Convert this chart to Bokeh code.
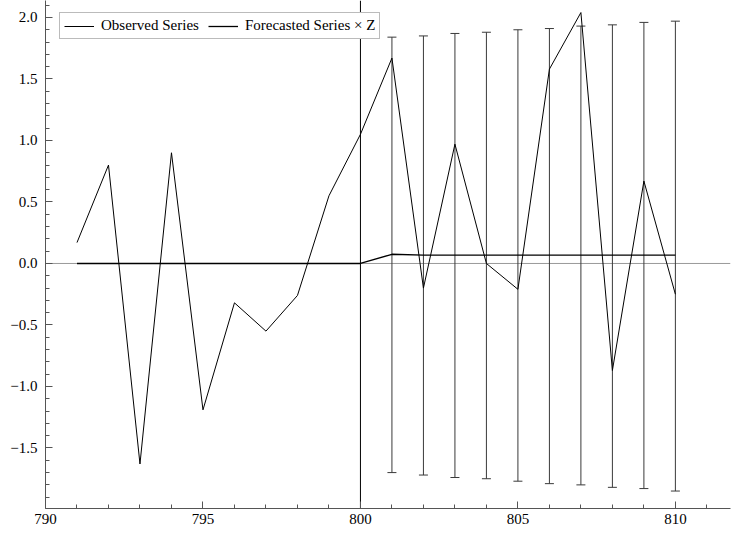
from bokeh.plotting import figure
from bokeh.models import (ColumnDataSource, Span, Whisker, TeeHead, SingleIntervalTicker,
                          CustomJSTickFormatter, Range1d, Legend, LegendItem)
from bokeh.embed import file_html
from bokeh.resources import INLINE

# ---- data ----
x_vals = [791, 792, 793, 794, 795, 796, 797, 798, 799, 800,
          801, 802, 803, 804, 805, 806, 807, 808, 809, 810]
observed = [0.17, 0.80, -1.63, 0.90, -1.19, -0.32, -0.55, -0.26, 0.55, 1.05,
            1.67, -0.20, 0.97, 0.00, -0.21, 1.58, 2.04, -0.87, 0.67, -0.25]
forecast = [0.0, 0.0, 0.0, 0.0, 0.0, 0.0, 0.0, 0.0, 0.0, 0.0,
            0.075, 0.068, 0.068, 0.068, 0.068, 0.068, 0.068, 0.068, 0.068, 0.068]
err_x = [801, 802, 803, 804, 805, 806, 807, 808, 809, 810]
err_upper = [1.84, 1.85, 1.87, 1.88, 1.90, 1.91, 1.93, 1.94, 1.96, 1.97]
err_lower = [-1.70, -1.72, -1.74, -1.75, -1.77, -1.79, -1.80, -1.82, -1.83, -1.85]
cutoff = 800
labels = ["Observed Series", "Forecasted Series \u00d7 Z"]

FONT = "Liberation Serif, Times New Roman, serif"

p = figure(width=731, height=537, output_backend="svg", toolbar_location=None,
           x_range=Range1d(790, 811.75), y_range=Range1d(-1.992, 2.138),
           min_border_left=45, min_border_right=1, min_border_top=0, min_border_bottom=29)
p.outline_line_color = None
p.xgrid.visible = False
p.ygrid.visible = False
p.background_fill_color = "white"

# reference lines
p.add_layout(Span(location=0, dimension="width", line_color="#9a9a9a", line_width=1,
                  level="underlay"))
p.add_layout(Span(location=cutoff, dimension="height", line_color="black", line_width=1,
                  level="underlay"))

src = ColumnDataSource(dict(x=x_vals, obs=observed, fc=forecast))
r_obs = p.line("x", "obs", source=src, line_color="black", line_width=1)
r_fc = p.line("x", "fc", source=src, line_color="black", line_width=1.3)

esrc = ColumnDataSource(dict(x=err_x, up=err_upper, lo=err_lower))
w = Whisker(base="x", upper="up", lower="lo", source=esrc, dimension="height",
            line_color="#3a3a3a", line_width=1,
            upper_head=TeeHead(size=9, line_color="#3a3a3a", line_width=1),
            lower_head=TeeHead(size=9, line_color="#3a3a3a", line_width=1))
p.add_layout(w)

# axes
for ax in (p.xaxis[0], p.yaxis[0]):
    ax.axis_line_color = "#555555"
    ax.major_tick_line_color = "#555555"
    ax.minor_tick_line_color = "#555555"
    ax.major_tick_in = 7
    ax.major_tick_out = 0
    ax.minor_tick_in = 4
    ax.minor_tick_out = 0
    ax.major_label_text_font = FONT
    ax.major_label_text_font_size = "15px"
    ax.major_label_text_color = "black"

p.xaxis.ticker = SingleIntervalTicker(interval=5, num_minor_ticks=5)
p.yaxis.ticker = SingleIntervalTicker(interval=0.5, num_minor_ticks=5)
p.xaxis.major_label_standoff = 5
p.yaxis.major_label_standoff = 8
p.yaxis.formatter = CustomJSTickFormatter(code="return tick.toFixed(1).replace('-', '\u2212');")

legend = Legend(items=[LegendItem(label=labels[0], renderers=[r_obs]),
                       LegendItem(label=labels[1], renderers=[r_fc])],
                orientation="horizontal", location=(14, 469))
legend.label_text_font = FONT
legend.label_text_font_size = "15px"
legend.label_text_color = "black"
legend.padding = 4
legend.spacing = 9
legend.margin = 0
legend.label_standoff = 7
legend.glyph_width = 30
legend.glyph_height = 16
legend.label_height = 16
legend.border_line_color = "#777777"
legend.border_line_width = 1
legend.background_fill_alpha = 1
p.add_layout(legend)

open("out.html", "w").write(file_html(p, INLINE))
